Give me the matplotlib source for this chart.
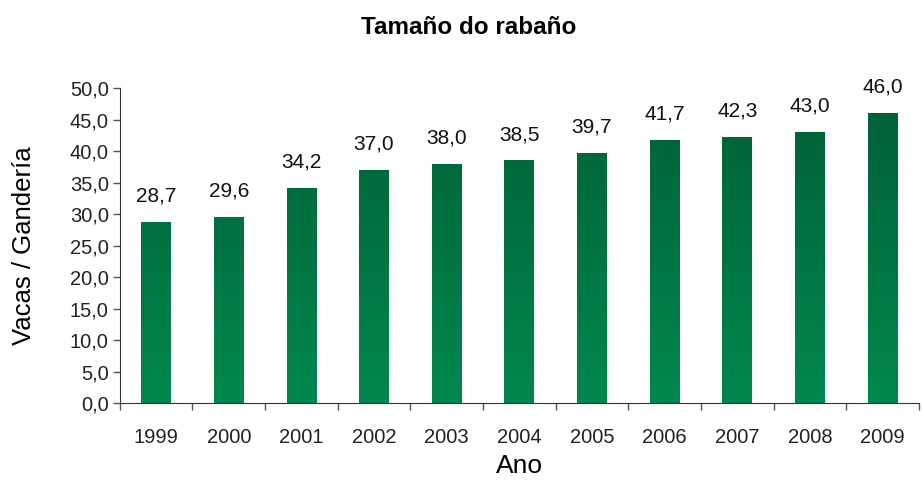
import matplotlib
matplotlib.use("Agg")
import matplotlib.pyplot as plt
import numpy as np
from matplotlib.colors import LinearSegmentedColormap

years = ["1999", "2000", "2001", "2002", "2003", "2004", "2005", "2006", "2007", "2008", "2009"]
cows = [28.7, 29.6, 34.2, 37.0, 38.0, 38.5, 39.7, 41.7, 42.3, 43.0, 46.0]
yticks = [0, 5, 10, 15, 20, 25, 30, 35, 40, 45, 50]

plt.rcParams['font.family'] = ['Liberation Sans', 'DejaVu Sans']

fig = plt.figure(figsize=(9.22, 4.83), dpi=100)
ax = fig.add_axes([0.130, 0.1656, 0.8665, 0.6522])

x = np.arange(len(years))
bars = ax.bar(x, cows, width=0.41, color='none', edgecolor='none', zorder=2)

# vertical gradient, lighter at the bottom
cmap = LinearSegmentedColormap.from_list('grn', ['#00884e', '#005f36'])
grad = np.linspace(0, 1, 256).reshape(-1, 1)
for b in bars:
    im = ax.imshow(grad, cmap=cmap, aspect='auto', origin='lower',
                   extent=[x[0] - 0.5, x[-1] + 0.5, 0, 50], zorder=2)
    im.set_clip_path(b)
    ax.text(b.get_x() + b.get_width() / 2, b.get_height() + 2.6,
            f"{b.get_height():.1f}".replace('.', ','),
            ha='center', va='bottom', fontsize=15, color='#111111')

ax.set_xlim(-0.5, len(years) - 0.5)
ax.set_ylim(0, 50)
ax.set_yticks(yticks)
ax.set_yticklabels([f"{v:.1f}".replace('.', ',') for v in yticks])
ax.set_xticks(x)
ax.set_xticklabels(years)
ax.set_xticks(np.arange(len(years) + 1) - 0.5, minor=True)
ax.tick_params(axis='x', which='major', length=0, pad=18, labelsize=14.5, labelcolor='#222222')
ax.tick_params(axis='x', which='minor', length=5, width=1, color='#555555', direction='out')
ax.tick_params(axis='y', length=5, width=1, color='#555555', labelsize=14.5, labelcolor='#222222', pad=3)

for s in ['top', 'right']:
    ax.spines[s].set_visible(False)
ax.spines['left'].set_color('#333333')
ax.spines['bottom'].set_color('#333333')

ax.set_ylabel('Vacas / Gandería', fontsize=18.5, labelpad=24)
ax.set_xlabel('Ano', fontsize=19, labelpad=5)
fig.text(0.508, 0.943, 'Tamaño do rabaño', ha='center', va='center',
         fontsize=17.5, fontweight='bold')

fig.savefig('out.png', dpi=100)
